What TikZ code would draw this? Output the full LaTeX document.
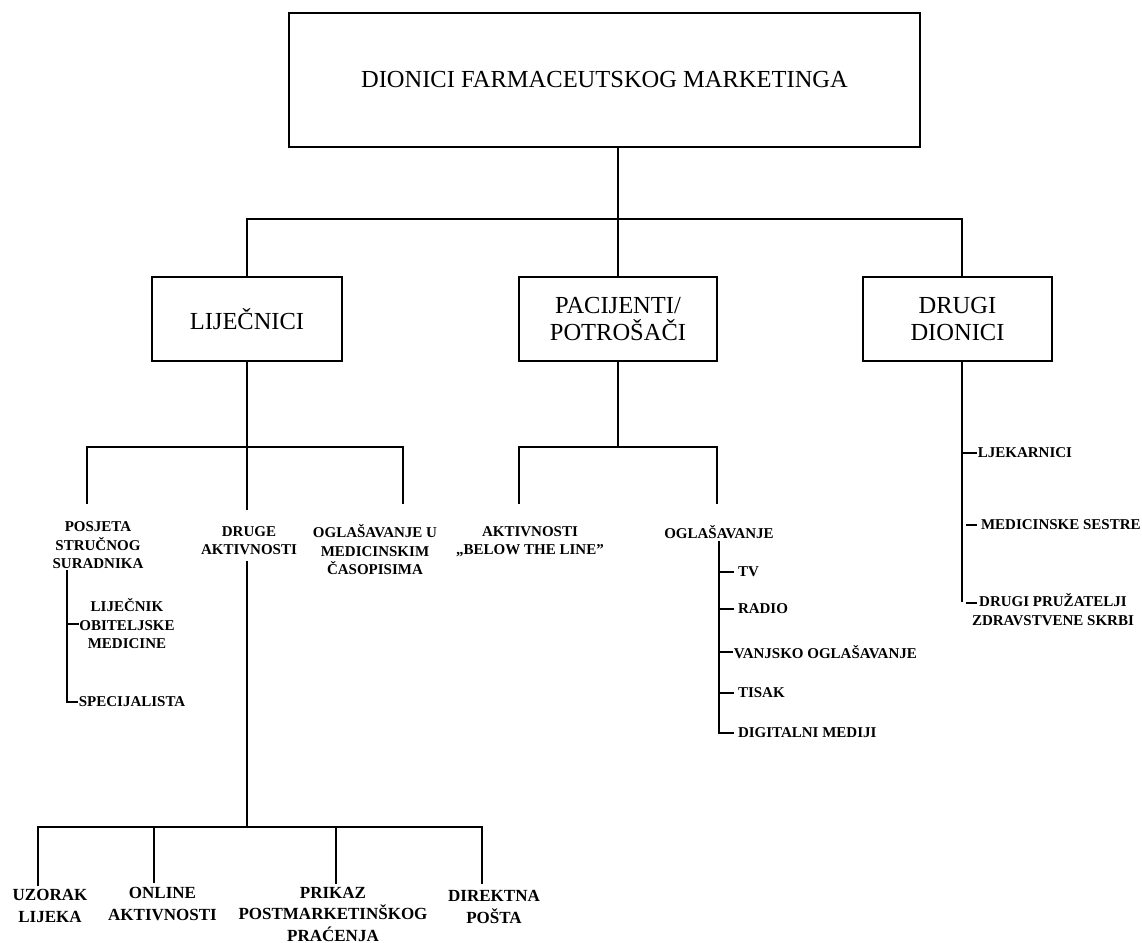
\documentclass[tikz,border=0pt]{standalone}
\usepackage{fontspec}
\setmainfont{Liberation Serif}
\usepackage{tikz}

\tikzset{
  bigbox/.style={draw, align=center, inner sep=0pt, font=\fontsize{12.25}{13.75}\selectfont},
  lab/.style={align=center, inner sep=0pt, font=\fontsize{7.5}{9.25}\selectfont\bfseries},
  botlab/.style={align=center, inner sep=0pt, font=\fontsize{8.5}{10.75}\selectfont\bfseries},
  leaf/.style={lab, anchor=west},
  leafgap/.style={leaf, outer xsep=2pt},
}

\begin{document}
\begin{tikzpicture}[x=0.5pt,y=-0.5pt,line width=0.9pt]
\useasboundingbox (0,0) rectangle (1142,943);

% boxes
\node[bigbox, minimum width=315.5pt, minimum height=67pt] (root) at (604.5,80) {DIONICI FARMACEUTSKOG MARKETINGA};
\node[bigbox, minimum width=95pt, minimum height=42pt] (lij) at (247,319) {LIJEČNICI};
\node[bigbox, minimum width=99pt, minimum height=42pt] (pac) at (618,319) {PACIJENTI/\\POTROŠAČI};
\node[bigbox, minimum width=94.5pt, minimum height=42pt] (drugi) at (957.5,319) {DRUGI\\DIONICI};

\coordinate (j1) at (618,219);
\draw (pac.north |- root.south) -- (pac.north);
\draw (lij.north) |- (j1) -| ([xshift=2.25pt]drugi.north);

% lijecnici
\node[lab] (posjeta) at (98,545.5) {POSJETA\\STRUČNOG\\SURADNIKA};
\node[lab] (druge) at (249,540.5) {DRUGE\\AKTIVNOSTI};
\node[lab] (oglmed) at (375,550) {OGLAŠAVANJE U\\MEDICINSKIM\\ČASOPISIMA};
\coordinate (j2) at (247,447);
\coordinate (posjeta-t) at (87,504);
\coordinate (druge-t) at (247,510);
\coordinate (oglmed-t) at (403,504);
\draw (lij.south) -- (j2) -- (druge-t);
\draw (posjeta-t) |- (oglmed-t |- j2) -- (oglmed-t);

\node[lab] (obit) at (127,624) {LIJEČNIK\\OBITELJSKE\\MEDICINE};
\node[leaf] (spec) at (78,702) {SPECIJALISTA};
\coordinate (ps) at (67,570);
\draw (ps) |- (spec.west);
\draw (ps |- obit.west) -- (obit.west);

% druge aktivnosti
\node[botlab] (uzorak) at (50,906) {UZORAK\\LIJEKA};
\node[botlab] (online) at (162.5,904) {ONLINE\\AKTIVNOSTI};
\node[botlab] (prikaz) at (333,914) {PRIKAZ\\POSTMARKETINŠKOG\\PRAĆENJA};
\node[botlab] (direkt) at (494,907) {DIREKTNA\\POŠTA};
\coordinate (druge-b) at (247,561);
\coordinate (j3) at (247,827);
\coordinate (uzorak-t) at (38,886);
\coordinate (online-t) at (154,883);
\coordinate (prikaz-t) at (336,884);
\coordinate (direkt-t) at (482,884);
\draw (druge-b) -- (j3);
\draw (uzorak-t) |- (direkt-t |- j3) -- (direkt-t);
\draw (online-t) -- (online-t |- j3);
\draw (prikaz-t) -- (prikaz-t |- j3);

% pacijenti
\node[lab] (aktiv) at (530,541.5) {AKTIVNOSTI\\„BELOW THE LINE”};
\node[lab] (oglas) at (719,532) {OGLAŠAVANJE};
\coordinate (j4) at (618,447);
\coordinate (aktiv-t) at (519,504);
\coordinate (oglas-t) at (717,504);
\draw (pac.south) -- (j4);
\draw (aktiv-t) |- (oglas-t |- j4) -- (oglas-t);

\node[leafgap] (tv) at (734,572) {TV};
\node[leafgap] (radio) at (734,609) {RADIO};
\node[leaf] (vanj) at (733,652) {VANJSKO OGLAŠAVANJE};
\node[leafgap] (tisak) at (734,693) {TISAK};
\node[leafgap] (dig) at (734,733) {DIGITALNI MEDIJI};
\coordinate (ov) at (719,541);
\draw (ov) |- (dig.west);
\foreach \n in {tv,radio,vanj,tisak}
  \draw (ov |- \n.west) -- (\n.west);

% drugi dionici
\node[leaf] (ljek) at (977,453) {LJEKARNICI};
\node[leafgap] (medic) at (977,525) {MEDICINSKE SESTRE};
\node[lab] (pruz) at (1053,609.5) {DRUGI PRUŽATELJI\\ZDRAVSTVENE SKRBI};
\coordinate (dv) at ([xshift=2.25pt]drugi.south);
\coordinate (dv-e) at (962,602);
\coordinate (pruz-t) at (977,603);
\draw (dv) -- (dv-e);
\draw (dv |- ljek.west) -- (ljek.west);
\draw ([xshift=2pt]dv |- medic.west) -- (medic.west);
\draw ([xshift=2pt]dv |- pruz-t) -- (pruz-t);
\end{tikzpicture}
\end{document}
